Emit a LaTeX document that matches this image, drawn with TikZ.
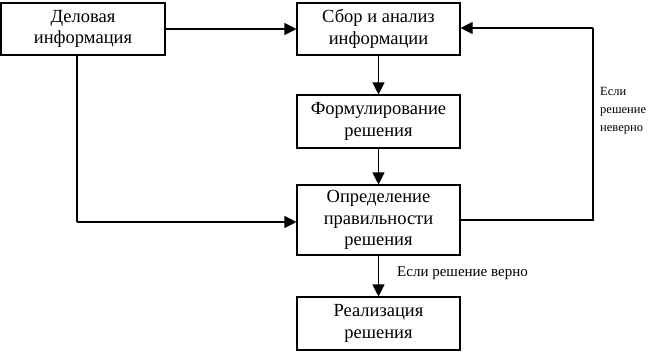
\documentclass[tikz,border=0pt]{standalone}
\usepackage{fontspec}
\setmainfont{Liberation Serif}
\usetikzlibrary{arrows.meta}
\begin{document}
\begin{tikzpicture}[x=1pt,y=-1pt,
  box/.style={draw,line width=1.1pt,inner sep=0pt,align=center,font=\fontsize{18.5}{21.5}\selectfont},
  conn/.style={line width=1.1pt,-{Triangle[length=12pt,width=12pt]}},
  plain/.style={line width=1.1pt},
  lbl/.style={font=\fontsize{12.5}{18}\selectfont,inner sep=0pt}]
\useasboundingbox[fill=white] (0,0) rectangle (666,354);
\node[box,minimum width=164pt,minimum height=52pt] (del) at (83,29) {Деловая\\информация};
\node[box,minimum width=163pt,minimum height=52pt] (sbor) at (378.5,29) {Сбор и анализ\\информации};
\node[box,minimum width=163pt,minimum height=53pt] (form) at (378.5,121.5) {Формулирование\\решения};
\node[box,minimum width=163pt,minimum height=70pt] (opr) at (378.5,220) {Определение\\правильности\\решения};
\node[box,minimum width=163pt,minimum height=53pt] (real) at (378.5,323.5) {Реализация\\решения};
\coordinate (lc) at (77,222);
\coordinate (rc) at (593,220);
\coordinate (rt) at (593,28);
\draw[conn] (del.east) -- (sbor.west);
\draw[conn] (sbor.south) -- (form.north);
\draw[conn] (form.south) -- (opr.north);
\draw[conn] (opr.south) -- (real.north);
\draw[plain] (del.south -| lc) -- (lc);
\draw[conn] (lc) -- (lc -| opr.west);
\draw[plain] (rc -| opr.east) -- (rc) -- (rt);
\draw[conn] (rt) -- (rt -| sbor.east);
\node[lbl,anchor=west,align=left] (lno) at (600,111) {Если\\решение\\неверно};
\node[lbl,anchor=west,font=\fontsize{15}{18}\selectfont] (lyes) at (397,273) {Если решение верно};
\end{tikzpicture}
\end{document}
